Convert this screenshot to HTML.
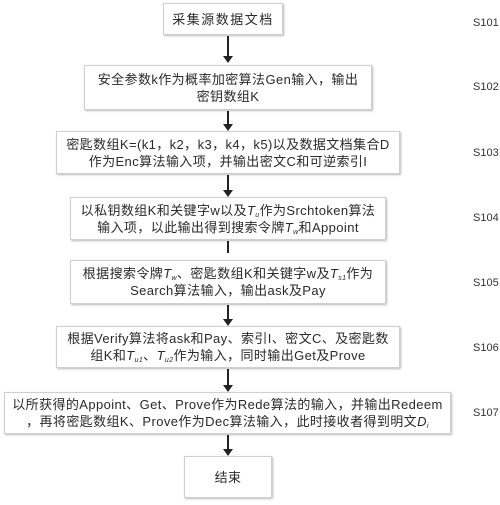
<!DOCTYPE html>
<html><head><meta charset="utf-8"><style>
body{margin:0;width:500px;height:505px;background:#fff;position:relative;overflow:hidden;font-family:"Liberation Sans","Noto Sans CJK SC",sans-serif;color:#2a2a2a}
.b{position:absolute;border:1px solid #cfcfcf;box-shadow:1px 1px 2px #bbb;background:#fff;display:flex;align-items:center;justify-content:center;text-align:center;font-size:13px;line-height:17px;box-sizing:border-box;letter-spacing:0.4px}
.b>span{display:block;white-space:nowrap}
.l{position:absolute;left:473px;font-size:11px;color:#333}
.a{position:absolute;left:227px;width:2px;background:#222}
.h{position:absolute;left:223px;width:0;height:0;border-left:5px solid transparent;border-right:5px solid transparent;border-top:7px solid #222}
i{font-style:italic}
sub{font-size:7px;line-height:0;vertical-align:-2px}
</style></head><body>
<div class="b" style="left:163px;top:3px;width:120px;height:32px"><span style="letter-spacing:1.5px">采集源数据文档</span></div>
<div class="b" style="left:84px;top:65px;width:288px;height:45px"><span>安全参数k作为概率加密算法Gen输入，输出<br>密钥数组K</span></div>
<div class="b" style="left:56px;top:131px;width:344px;height:43px"><span>密匙数组K=(k1，k2，k3，k4，k5)以及数据文档集合D<br>作为Enc算法输入项，并输出密文C和可逆索引I</span></div>
<div class="b" style="left:70px;top:197px;width:316px;height:43px"><span>以私钥数组K和关键字w以及<i>T<sub>u</sub></i>作为Srchtoken算法<br>输入项，以此输出得到搜索令牌<i>T<sub>w</sub></i>和Appoint</span></div>
<div class="b" style="left:70px;top:260px;width:316px;height:44px"><span>根据搜索令牌<i>T<sub>w</sub></i>、密匙数组K和关键字w及<i>T<sub>s1</sub></i>作为<br>Search算法输入，输出ask及Pay</span></div>
<div class="b" style="left:56px;top:326px;width:344px;height:42px"><span>根据Verify算法将ask和Pay、索引I、密文C、及密匙数<br>组K和<i>T<sub>u1</sub></i>、<i>T<sub>u2</sub></i>作为输入，同时输出Get及Prove</span></div>
<div class="b" style="left:4px;top:392px;width:447px;height:42px"><span>以所获得的Appoint、Get、Prove作为Rede算法的输入，并输出Redeem<br>，再将密匙数组K、Prove作为Dec算法输入，此时接收者得到明文<i>D<sub>i</sub></i></span></div>
<div class="b" style="left:184px;top:456px;width:88px;height:42px"><span>结束</span></div>
<div class="a" style="top:36px;height:20px"></div><div class="h" style="top:56px"></div>
<div class="a" style="top:111px;height:13px"></div><div class="h" style="top:124px"></div>
<div class="a" style="top:175px;height:15px"></div><div class="h" style="top:190px"></div>
<div class="a" style="top:241px;height:12px"></div>
<div class="a" style="top:305px;height:14px"></div><div class="h" style="top:319px"></div>
<div class="a" style="top:369px;height:16px"></div><div class="h" style="top:385px"></div>
<div class="a" style="top:435px;height:14px"></div><div class="h" style="top:449px"></div>
<div class="l" style="top:17px">S101</div>
<div class="l" style="top:81px">S102</div>
<div class="l" style="top:147px">S103</div>
<div class="l" style="top:212px">S104</div>
<div class="l" style="top:277px">S105</div>
<div class="l" style="top:342px">S106</div>
<div class="l" style="top:407px">S107</div>
</body></html>
